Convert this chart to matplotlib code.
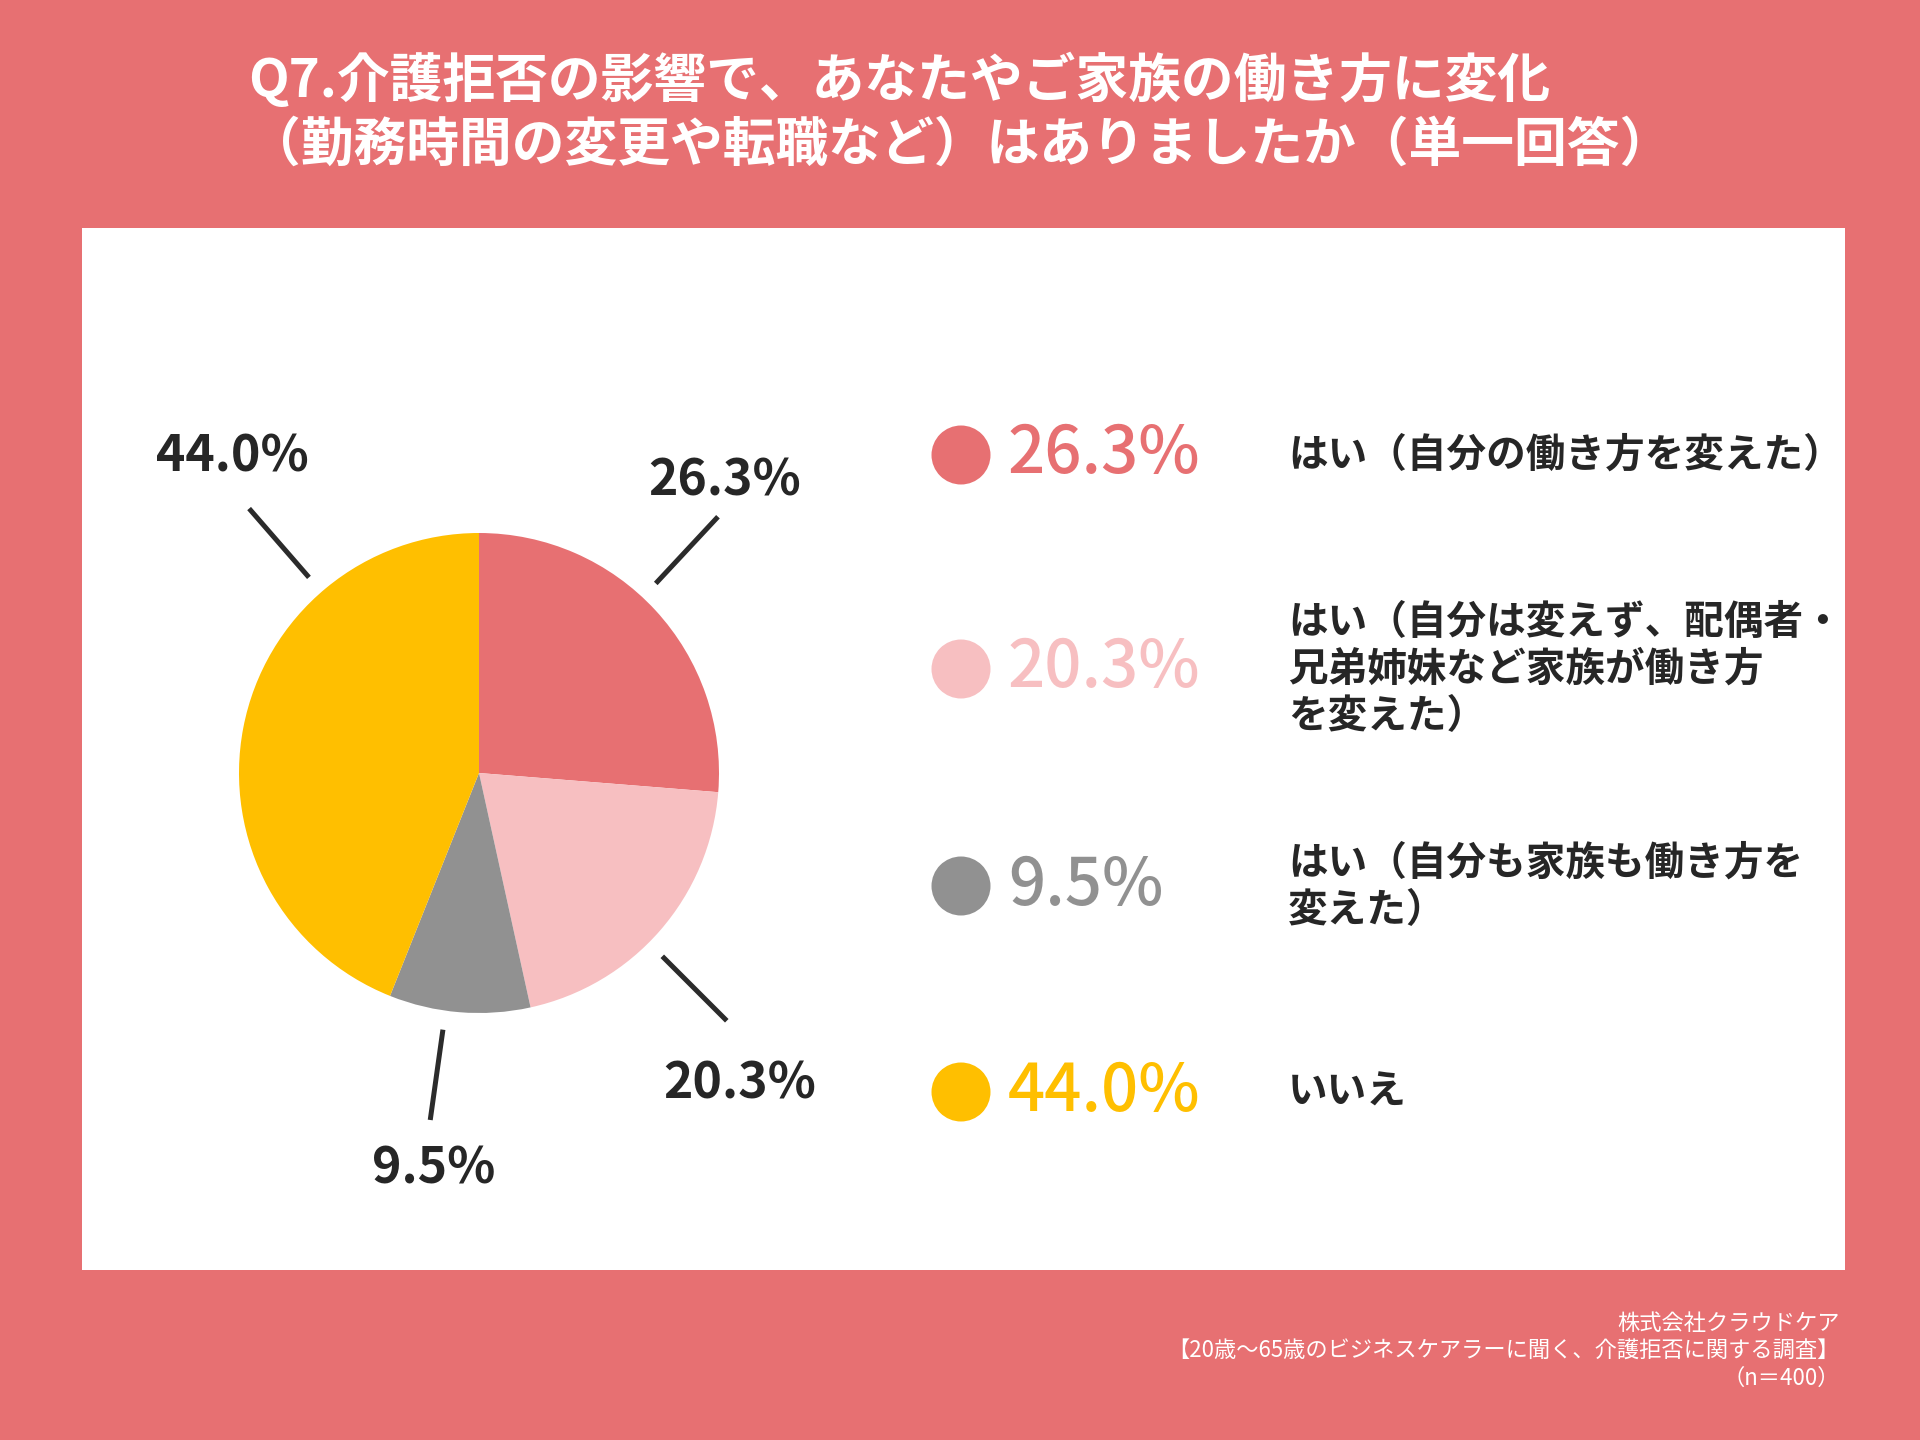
import numpy as np
import matplotlib
matplotlib.use("Agg")
import matplotlib.pyplot as plt
from matplotlib.patches import Circle, Rectangle

plt.rcParams['font.family'] = ['Noto Sans CJK JP', 'DejaVu Sans']

# data
categories = ["はい（自分の働き方を変えた）",
              "はい（自分は変えず、配偶者・\n兄弟姉妹など家族が働き方\nを変えた）",
              "はい（自分も家族も働き方を\n変えた）",
              "いいえ"]
values = [26.3, 20.3, 9.5, 44.0]
colors = ["#E77072", "#F7BFC1", "#919191", "#FFBF00"]

title = "Q7.介護拒否の影響で、あなたやご家族の働き方に変化\n（勤務時間の変更や転職など）はありましたか（単一回答）"
footer = "株式会社クラウドケア\n【20歳～65歳のビジネスケアラーに聞く、介護拒否に関する調査】\n（n＝400）"

# layout (figure pixels, y measured from top)
W, H = 1920, 1440
bg = "#E77072"
dark = "#262626"
pie_c = (479, 773)
pie_r = 240
line_angles = [47, -45, -98, 131]      # direction of the leader lines
text_angles = [50, -50, -96.5, 128]    # direction of the value labels
text_dist = [1.59, 1.69, 1.66, 1.67]   # in pie radii
legend_y = [455, 669, 886, 1092]


def fy(y):
    return H - y


fig = plt.figure(figsize=(19.2, 14.4), dpi=100)
fig.patch.set_facecolor(bg)
ax = fig.add_axes([0, 0, 1, 1])

# white panel
ax.add_patch(Rectangle((82, fy(1270)), 1845 - 82, 1270 - 228, facecolor="white", edgecolor="none", zorder=0))

wedges, _ = ax.pie(values, colors=colors, startangle=90, counterclock=False,
                   center=(pie_c[0], fy(pie_c[1])), radius=pie_r,
                   wedgeprops=dict(linewidth=0), frame=True)

# leader lines and value labels
cx, cy = pie_c[0], fy(pie_c[1])
for v, la, ta, td in zip(values, line_angles, text_angles, text_dist):
    a = np.deg2rad(la)
    dx, dy = np.cos(a), np.sin(a)
    ax.plot([cx + dx * pie_r * 1.08, cx + dx * pie_r * 1.46],
            [cy + dy * pie_r * 1.08, cy + dy * pie_r * 1.46],
            color="#2b2b2b", lw=3.6, solid_capstyle="butt", zorder=3)
    b = np.deg2rad(ta)
    ax.text(cx + np.cos(b) * pie_r * td, cy + np.sin(b) * pie_r * td, f"{v:.1f}%",
            ha="center", va="center", fontsize=36, fontweight="bold", color=dark, zorder=4)

# legend
for cat, v, col, ly in zip(categories, values, colors, legend_y):
    ax.add_patch(Circle((961, fy(ly)), 29.5, facecolor=col, edgecolor="none", zorder=3))
    ax.text(1008, fy(ly), f"{v:.1f}%", ha="left", va="center", fontsize=47,
            fontweight="medium", color=col, zorder=4)
    ax.text(1288, fy(ly), cat, ha="left", va="center", fontsize=28.5,
            fontweight="bold", color=dark, linespacing=1.17, zorder=4)

# title
ax.text(W / 2, fy(112), title, ha="center", va="center", multialignment="left",
        fontsize=38, fontweight="bold", color="white", linespacing=1.25)

# footer
ax.text(1840, fy(1351), footer, ha="right", va="center", multialignment="right",
        fontsize=16, color="white", linespacing=1.25)

ax.set_xlim(0, W)
ax.set_ylim(0, H)
ax.set_aspect("equal")
ax.axis("off")

fig.savefig("out.png", dpi=100, facecolor=bg)
